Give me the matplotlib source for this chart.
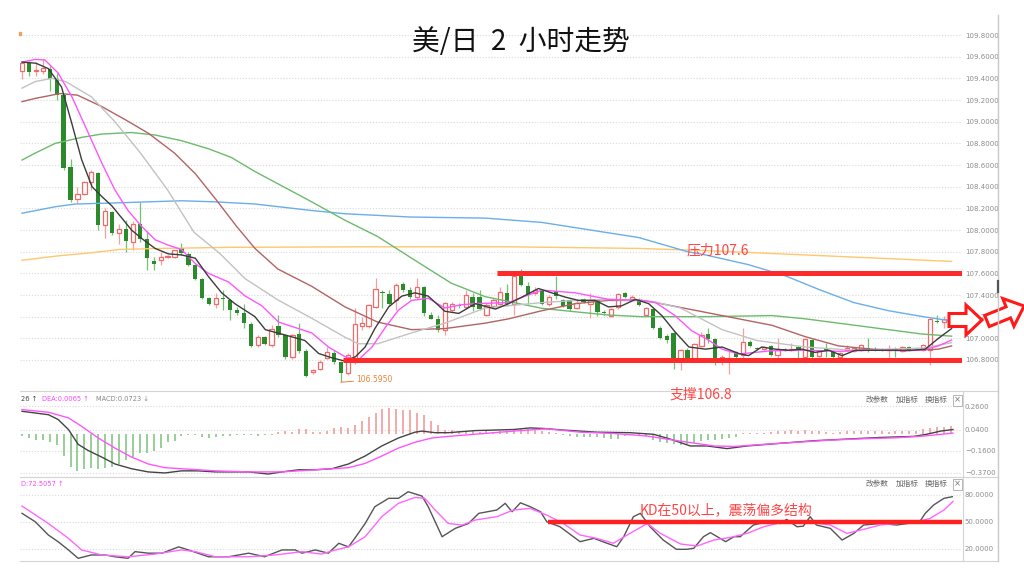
import numpy as np
import matplotlib.pyplot as plt
from matplotlib.lines import Line2D
from matplotlib.patches import Polygon, Rectangle

plt.rcParams['font.family'] = ['Noto Sans CJK SC', 'DejaVu Sans']

# ---- K线数据 (2小时, 135根) ----
opens = [
    109.47, 109.54, 109.47, 109.47, 109.49, 109.39, 109.25, 108.58, 108.29, 108.33,
    108.44, 108.53, 108.05, 108.17, 107.97, 108.01, 107.89, 108.06, 107.92, 107.71,
    107.72, 107.75, 107.75, 107.83, 107.78, 107.68, 107.55, 107.37, 107.32, 107.37,
    107.35, 107.26, 107.23, 107.13, 106.94, 107.01, 106.94, 107.11, 107.03, 106.83,
    107.04, 106.88, 106.69, 106.72, 106.82, 106.86, 106.78, 106.68, 106.78, 107.11,
    107.11, 107.29, 107.43, 107.41, 107.35, 107.50, 107.45, 107.38, 107.47, 107.22,
    107.18, 107.08, 107.26, 107.31, 107.29, 107.38, 107.38, 107.22, 107.30, 107.32,
    107.42, 107.32, 107.625, 107.48, 107.42, 107.45, 107.32, 107.44, 107.35, 107.35,
    107.28, 107.36, 107.32, 107.35, 107.24, 107.21, 107.29, 107.42, 107.36, 107.35,
    107.22, 107.27, 107.10, 107.02, 107.05, 106.79, 106.89, 106.82, 106.93, 107.04,
    106.99, 106.81, 106.79, 106.87, 106.85, 106.97, 106.91, 106.90, 106.93, 106.85,
    106.90, 106.89, 106.92, 106.83, 106.98, 106.84, 106.90, 106.88, 106.83, 106.89,
    106.88, 106.89, 106.91, 106.90, 106.90, 106.89, 106.90, 106.88, 106.92, 106.91,
    106.89, 106.89, 107.16, 107.15, 107.16]
closes = [
    109.54, 109.46, 109.48, 109.50, 109.39, 109.25, 108.57, 108.28, 108.33, 108.44,
    108.54, 108.05, 108.18, 107.97, 108.01, 107.90, 108.06, 107.92, 107.74, 107.69,
    107.75, 107.76, 107.82, 107.79, 107.68, 107.55, 107.37, 107.32, 107.37, 107.36,
    107.26, 107.23, 107.14, 106.93, 107.01, 106.95, 107.09, 107.03, 106.83, 107.03,
    106.88, 106.65, 106.71, 106.78, 106.87, 106.78, 106.68, 106.85, 107.13, 107.14,
    107.31, 107.46, 107.42, 107.32, 107.49, 107.45, 107.38, 107.47, 107.23, 107.18,
    107.08, 107.33, 107.32, 107.30, 107.40, 107.29, 107.27, 107.31, 107.35, 107.43,
    107.32, 107.58, 107.49, 107.41, 107.45, 107.32, 107.38, 107.39, 107.30, 107.27,
    107.33, 107.34, 107.35, 107.24, 107.23, 107.27, 107.41, 107.38, 107.38, 107.31,
    107.28, 107.10, 107.00, 106.98, 106.79, 106.89, 106.82, 106.95, 107.03, 106.99,
    106.79, 106.83, 106.82, 106.83, 106.97, 106.93, 106.90, 106.92, 106.85, 106.89,
    106.89, 106.90, 106.88, 106.99, 106.83, 106.88, 106.89, 106.83, 106.86, 106.91,
    106.91, 106.94, 106.89, 106.89, 106.89, 106.90, 106.89, 106.92, 106.89, 106.90,
    106.94, 107.18, 107.15, 107.18, 107.14]
highs = [
    109.55, 109.56, 109.55, 109.58, 109.51, 109.45, 109.26, 108.66, 108.40, 108.45,
    108.55, 108.54, 108.20, 108.18, 108.06, 108.09, 108.08, 108.26, 107.99, 107.75,
    107.80, 107.77, 107.82, 107.88, 107.80, 107.69, 107.56, 107.38, 107.42, 107.45,
    107.36, 107.29, 107.32, 107.15, 107.03, 107.02, 107.12, 107.22, 107.04, 107.04,
    107.14, 106.90, 106.72, 106.80, 106.92, 106.89, 106.79, 106.86, 107.28, 107.20,
    107.32, 107.56, 107.45, 107.45, 107.51, 107.52, 107.47, 107.56, 107.48, 107.24,
    107.22, 107.34, 107.34, 107.33, 107.45, 107.42, 107.45, 107.33, 107.37, 107.47,
    107.50, 107.625, 107.64, 107.52, 107.47, 107.46, 107.40, 107.58, 107.36, 107.36,
    107.35, 107.37, 107.42, 107.36, 107.26, 107.28, 107.42, 107.43, 107.40, 107.37,
    107.29, 107.28, 107.11, 107.04, 107.06, 106.90, 106.91, 106.96, 107.06, 107.10,
    107.00, 106.85, 106.89, 106.88, 107.10, 106.98, 106.92, 106.93, 106.94, 107.00,
    106.91, 106.96, 106.93, 107.00, 106.99, 106.89, 106.96, 106.89, 106.87, 106.94,
    106.92, 106.95, 107.00, 106.92, 106.91, 106.94, 106.92, 106.93, 106.93, 106.92,
    106.95, 107.19, 107.22, 107.21, 107.17]
lows = [
    109.39, 109.42, 109.42, 109.44, 109.28, 109.20, 108.55, 108.26, 108.25, 108.32,
    108.37, 108.00, 107.93, 107.95, 107.87, 107.80, 107.82, 107.89, 107.63, 107.63,
    107.68, 107.74, 107.74, 107.77, 107.67, 107.54, 107.36, 107.31, 107.28, 107.26,
    107.17, 107.22, 107.10, 106.92, 106.92, 106.94, 106.92, 107.01, 106.81, 106.81,
    106.86, 106.64, 106.67, 106.71, 106.81, 106.76, 106.595, 106.66, 106.76, 107.08,
    107.10, 107.28, 107.28, 107.30, 107.26, 107.43, 107.36, 107.36, 107.21, 107.18,
    107.06, 107.03, 107.24, 107.28, 107.27, 107.25, 107.26, 107.21, 107.28, 107.30,
    107.30, 107.22, 107.48, 107.32, 107.40, 107.31, 107.30, 107.36, 107.29, 107.25,
    107.27, 107.33, 107.19, 107.21, 107.22, 107.20, 107.27, 107.37, 107.35, 107.30,
    107.21, 107.09, 106.99, 106.96, 106.72, 106.71, 106.80, 106.81, 106.92, 106.96,
    106.75, 106.75, 106.67, 106.82, 106.82, 106.92, 106.89, 106.89, 106.84, 106.79,
    106.88, 106.88, 106.79, 106.82, 106.82, 106.83, 106.83, 106.82, 106.82, 106.88,
    106.87, 106.88, 106.87, 106.88, 106.88, 106.79, 106.83, 106.87, 106.88, 106.89,
    106.88, 106.75, 107.14, 107.10, 107.13]

# ---- 均线 (读图位置, 横坐标为K线序号) ----
ma5_x = [0, 2, 3.8, 5.7, 7.2, 8.6, 10.1, 11.5, 13, 14.4, 15.8, 17.3, 19.2, 21.1, 23, 25, 26.9, 28.8,
         30.7, 33.6, 35.1, 38, 40.8, 42.8, 44.7, 46.6, 48.1, 49.5, 50.9, 52.9, 54.8, 56.7, 58.6, 61,
         63, 65.4, 68.3, 70.2, 72.1, 74.5, 76.4, 78.4, 80.3, 82.7, 84.6, 86.5, 88.5, 90.4, 92.3, 94.2,
         96.2, 98.6, 101, 103.4, 104.8, 106.7, 108.7, 110.6, 112.5, 114.4, 116.4, 118.3, 120.2, 122.6,
         125.5, 128.4, 130.3, 132.2, 134.1]
ma5_v = [109.55, 109.54, 109.49, 109.32, 108.98, 108.65, 108.40, 108.31, 108.22, 108.11, 108.00, 107.92,
         107.83, 107.78, 107.77, 107.74, 107.57, 107.42, 107.32, 107.20, 107.08, 107.03, 106.98, 106.86,
         106.82, 106.79, 106.83, 106.92, 107.09, 107.29, 107.39, 107.42, 107.39, 107.25, 107.23, 107.32,
         107.27, 107.32, 107.38, 107.46, 107.42, 107.38, 107.35, 107.35, 107.29, 107.30, 107.36, 107.32,
         107.21, 107.06, 106.92, 106.90, 106.92, 106.86, 106.84, 106.92, 106.90, 106.89, 106.90, 106.87,
         106.89, 106.84, 106.89, 106.89, 106.89, 106.89, 106.90, 107.00, 107.09]
ma10_x = [0, 1.9, 3.3, 5.2, 7.2, 9.6, 11.5, 13.4, 15.3, 17.3, 19.2, 21.1, 23, 25, 26.9, 29.8, 32.2, 34.6,
          37, 41.8, 44.2, 46.6, 48.5, 50.5, 52.4, 54.3, 56.2, 58.6, 61, 63.4, 65.4, 70.2, 72.6, 75, 79.8,
          84.6, 89.4, 91.4, 94.2, 96.6, 99, 101, 103.4, 108.2, 113, 117.8, 122.6, 127.4, 129.8, 132.2, 134.1]
ma10_v = [109.55, 109.575, 109.57, 109.45, 109.23, 108.89, 108.62, 108.37, 108.18, 108.03, 107.91, 107.86,
          107.82, 107.69, 107.60, 107.52, 107.39, 107.30, 107.15, 107.05, 106.92, 106.83, 106.80, 106.92,
          107.10, 107.26, 107.35, 107.37, 107.28, 107.31, 107.32, 107.33, 107.39, 107.445, 107.42, 107.36,
          107.35, 107.33, 107.21, 107.07, 106.985, 106.90, 106.855, 106.886, 106.89, 106.88, 106.89,
          106.886, 106.89, 106.93, 106.985]
ma20_x = [0, 1.9, 4.3, 6.3, 10, 13.4, 17.1, 21, 24.8, 28.6, 32.2, 36.9, 41.8, 46.6, 48.5, 51.3, 56.2, 61,
          66.8, 70, 75, 80, 85, 91, 95, 101, 106, 113, 120, 130, 134.1]
ma20_v = [109.31, 109.37, 109.40, 109.37, 109.23, 109.0, 108.71, 108.37, 107.98, 107.78, 107.55, 107.355,
          107.185, 107.01, 106.95, 106.95, 107.05, 107.14, 107.28, 107.30, 107.33, 107.35, 107.36, 107.34,
          107.28, 107.08, 106.98, 106.92, 106.89, 106.91, 106.96]
ma30_x = [0, 1.9, 5.5, 8, 11.5, 15.4, 18.3, 22, 25, 28, 31, 33.6, 36.9, 41.8, 46.6, 51.3, 56.2, 61, 66.8,
          70.2, 75, 79.8, 84.6, 89.4, 91.4, 98.6, 103.4, 108.2, 113, 117.8, 122.6, 127.4, 132.2, 134.1]
ma30_v = [109.185, 109.215, 109.26, 109.245, 109.14, 109.0, 108.89, 108.71, 108.52, 108.28, 108.03, 107.83,
          107.64, 107.48, 107.29, 107.15, 107.08, 107.09, 107.14, 107.18, 107.255, 107.32, 107.35, 107.35,
          107.33, 107.24, 107.18, 107.12, 107.015, 106.93, 106.90, 106.886, 106.90, 106.93]
ma60_x = [0, 1.9, 4.8, 8.6, 11.5, 15.8, 19.2, 23, 26.9, 30.2, 33.6, 41.3, 46.6, 51.3, 56.2, 61.9, 66.8, 75,
          79.8, 84.6, 89.4, 98.6, 108.2, 113, 122.6, 129.8, 134.1]
ma60_v = [108.646, 108.71, 108.80, 108.855, 108.886, 108.90, 108.877, 108.825, 108.75, 108.67, 108.54,
          108.277, 108.09, 107.94, 107.74, 107.51, 107.385, 107.277, 107.245, 107.215, 107.20, 107.20,
          107.21, 107.18, 107.10, 107.04, 107.02]
ma120_x = [0, 4.8, 7.7, 13.4, 23, 27.9, 33.6, 41.8, 46.6, 56, 66.8, 75, 82, 89, 96, 98.6, 104.8, 110, 115,
           120, 125, 130, 134.1]
ma120_v = [108.155, 108.215, 108.24, 108.25, 108.27, 108.26, 108.24, 108.18, 108.15, 108.12, 108.11, 108.07,
           108.0, 107.93, 107.80, 107.77, 107.68, 107.58, 107.45, 107.33, 107.255, 107.20, 107.16]
ma250_x = [0, 5, 10, 14, 20, 30, 50, 70, 89, 98.6, 107.5, 120, 134.1]
ma250_v = [107.72, 107.76, 107.79, 107.82, 107.83, 107.84, 107.845, 107.845, 107.83, 107.81, 107.785,
           107.75, 107.71]

# ---- MACD ----
macd_hist = [
    -0.02, -0.04, -0.055, -0.06, -0.08, -0.11, -0.21, -0.31, -0.35, -0.33,
    -0.32, -0.33, -0.32, -0.31, -0.29, -0.25, -0.22, -0.18, -0.18, -0.16,
    -0.13, -0.08, -0.065, -0.02, -0.01, -0.015, -0.035, -0.04, -0.03, -0.02,
    -0.02, -0.015, -0.015, -0.015, -0.02, -0.015, -0.01, 0.015, 0.03, 0.015,
    0.045, 0.045, 0.02, 0.015, 0.03, 0.05, 0.06, 0.05, 0.08, 0.125,
    0.155, 0.20, 0.23, 0.24, 0.235, 0.22, 0.22, 0.20, 0.18, 0.12,
    0.08, 0.04, 0.035, 0.025, 0.03, 0.025, 0.02, 0.03, 0.02, 0.025,
    0.03, 0.04, 0.047, 0.047, 0.04, 0.03, 0.016, 0.005, -0.01, -0.02,
    -0.03, -0.03, -0.03, -0.03, -0.04, -0.05, -0.05, -0.02, -0.01, -0.01,
    -0.02, -0.06, -0.08, -0.09, -0.10, -0.11, -0.10, -0.09, -0.065, -0.055,
    -0.055, -0.047, -0.038, -0.03, 0.005, 0.01, 0.01, 0.01, 0.016, 0.022,
    0.028, 0.035, 0.022, 0.035, 0.028, 0.025, 0.016, 0.01, 0.016, 0.022,
    0.028, 0.028, 0.025, 0.028, 0.022, 0.016, 0.022, 0.028, 0.022, 0.028,
    0.047, 0.057, 0.06, 0.066, 0.072]
dif_x = [0, 3.8, 5.2, 6.7, 8.1, 9.6, 11.5, 13.4, 15.8, 18.2, 20.6, 23, 25.4, 27.9, 32.7, 35.5, 37.5, 39.9,
         42.3, 44.7, 47.1, 49.5, 51.9, 54.3, 56.7, 57.7, 59.6, 61.5, 65.4, 70.9, 73.3, 75.2, 78.1, 82.9,
         87.7, 91.1, 93.5, 96.4, 98.8, 101.7, 104.6, 109.4, 114.2, 119, 123.8, 128.6, 130.5, 132.5, 134.3]
dif_v = [0.212, 0.18, 0.135, 0.04, -0.10, -0.16, -0.22, -0.285, -0.33, -0.36, -0.37, -0.35, -0.35, -0.36,
         -0.36, -0.38, -0.36, -0.34, -0.34, -0.33, -0.285, -0.21, -0.115, -0.04, 0.015, 0.025, 0.01, 0.01,
         0.03, 0.04, 0.055, 0.05, 0.035, 0.015, 0.01, -0.005, -0.05, -0.115, -0.115, -0.14, -0.115, -0.09,
         -0.066, -0.05, -0.035, -0.025, -0.005, 0.025, 0.04]
dea_x = [0, 3.8, 6.7, 8.6, 11, 13.4, 15.8, 18.2, 20.6, 23, 27.9, 32.7, 37.5, 42.3, 44.7, 47.1, 49.5, 51.9,
         54.3, 56.7, 59.1, 61.5, 66.2, 70.9, 75.7, 80.5, 85.3, 90.2, 95, 99.8, 102.7, 107, 111.8, 116.6,
         121.4, 126.2, 130, 134.3]
dea_v = [0.228, 0.203, 0.15, 0.07, -0.04, -0.135, -0.22, -0.285, -0.32, -0.33, -0.35, -0.36, -0.36, -0.34,
         -0.33, -0.32, -0.28, -0.21, -0.135, -0.08, -0.04, -0.025, 0.0, 0.025, 0.047, 0.015, 0.003, -0.022,
         -0.07, -0.115, -0.12, -0.10, -0.08, -0.06, -0.047, -0.038, -0.022, 0.0065]

# ---- KD ----
k_x = [0, 1.9, 3.8, 5.2, 6.7, 8.1, 10, 12, 13.4, 15.3, 16.3, 18.2, 20.2, 22.6, 24, 26.9, 29.8, 32.7, 35,
       37.5, 39.4, 40.4, 42.3, 44.2, 45.7, 47.1, 48, 49.5, 50.9, 52.9, 54.3, 55.7, 57.7, 58.6, 60.6, 62.5,
       64.4, 65.9, 68.5, 69.7, 70.7, 71.9, 73.3, 74.8, 75.7, 77.6, 80.5, 82.5, 84.4, 85.8, 86.8, 88.2, 89.2,
       90.6, 92.5, 94.4, 95.9, 96.9, 98.3, 99.3, 100.3, 101.5, 102.7, 103.6, 105.5, 107.5, 109.4, 110.3,
       111.8, 112.7, 113.7, 114.6, 116.6, 118.3, 120, 121.4, 123.8, 126.2, 127.7, 129.4, 130.3, 131.5, 133,
       134.2]
k_v = [59.3, 50, 35.2, 27.8, 18.6, 9.3, 13, 13, 11, 9.3, 16.7, 15, 15, 22, 18.6, 11, 11, 15, 11, 18.6, 18.6,
       15, 18.6, 15, 26, 22, 31.5, 48, 66.7, 76, 76, 83.3, 78.5, 66.7, 33.3, 42.6, 48, 59.3, 63, 70.4, 61.1,
       71, 66.7, 61.1, 50, 44.4, 27.8, 31.5, 26, 22.2, 33.3, 55.6, 59.3, 44.4, 29.6, 19.3, 19.3, 20.4, 33.3,
       37.8, 33.3, 27.8, 33.3, 33.3, 46.3, 50, 48, 52.6, 44.4, 45, 55.6, 46.3, 42.6, 29.6, 37, 46.3, 48,
       46.3, 48, 48.9, 59.3, 68.5, 76, 77.8]
d_x = [0, 3.8, 6.7, 8.6, 11.5, 15.3, 19.2, 23, 25, 27.9, 32.7, 36.5, 40.4, 43.2, 45.2, 47.1, 49.5, 51.9,
       54.3, 56.7, 58.1, 59.6, 61.5, 63.5, 65.4, 68.5, 70.9, 73.3, 75.7, 78.1, 80.5, 82.9, 85.3, 87.7, 90.2,
       92.1, 95, 97.4, 99.8, 102.2, 104.6, 107, 109.4, 111.8, 114.2, 116.6, 119, 121.4, 123.8, 126.2, 128.6,
       131, 133, 134.3]
d_v = [67.4, 48, 31.5, 18.6, 13, 11, 14, 18.6, 16.7, 11, 11, 13, 16.7, 14, 18.6, 22, 33.3, 55.6, 70.4, 77,
       76, 63, 48, 46.3, 51.9, 55.6, 63, 64.8, 57.4, 48, 35.2, 31.5, 26, 37, 48, 37, 25.2, 23, 29.6, 32.6,
       37, 44.4, 48.9, 50, 48.9, 46.3, 37, 41.5, 46.3, 48, 48.9, 53.7, 63, 72.5]

price_ticks = [106.8, 107.0, 107.2, 107.4, 107.6, 107.8, 108.0, 108.2, 108.4, 108.6, 108.8,
               109.0, 109.2, 109.4, 109.6, 109.8]
macd_ticks = [0.26, 0.04, -0.16, -0.37]
macd_labels = ['0.2600', '0.0400', '\u22120.1600', '\u22120.3700']
kd_ticks = [80, 50, 20]
kd_labels = ['80.0000', '50.0000', '20.0000']

resistance, support, kd_level = 107.6, 106.8, 50

# ---- 画布 ----
W, H = 1024, 581
fig = plt.figure(figsize=(W / 100, H / 100), dpi=100)
fig.patch.set_facecolor('white')


def fx(x):
    return x / W


def fy(y):
    return 1 - y / H


def panel(top, bottom):
    return fig.add_axes([fx(20), fy(bottom), (962 - 20) / W, (bottom - top) / H])


XMIN, XMAX = -0.29, 135.6


def style(a, ticks, labels, ylim):
    a.set_xlim(XMIN, XMAX)
    a.set_ylim(*ylim)
    a.patch.set_alpha(0)
    for s in a.spines.values():
        s.set_visible(False)
    a.set_xticks([])
    a.yaxis.tick_right()
    a.set_yticks(ticks)
    a.set_yticklabels(labels)
    a.tick_params(axis='y', length=0, pad=2, labelsize=5.0, labelcolor='#8c8c8c')
    for lab in a.get_yticklabels():
        lab.set_fontfamily('DejaVu Sans')
    for t in ticks:
        a.axhline(t, color='#d9d9d9', lw=0.8, ls=(0, (1, 1.6)), zorder=0)


ax = panel(15, 390)
ax_macd = panel(392, 477)
ax_kd = panel(477, 561)

style(ax, price_ticks, ['%.4f' % t for t in price_ticks], (106.523, 109.985))
style(ax_macd, macd_ticks, macd_labels, (-0.408, 0.394))
style(ax_kd, kd_ticks, kd_labels, (6.3, 99.7))

# ---- 蜡烛 ----
o, c, h, l = map(np.array, (opens, closes, highs, lows))
x = np.arange(len(o))
up = c >= o
ax.vlines(x[up], l[up], h[up], color='#f3a0a0', lw=0.9, zorder=2)
ax.vlines(x[~up], l[~up], h[~up], color='#72c272', lw=0.9, zorder=2)
ax.bar(x[up], np.maximum(c - o, 0.005)[up], bottom=o[up], width=0.62,
       facecolor='white', edgecolor='#f06a6a', lw=0.9, zorder=3)
ax.bar(x[~up], np.maximum(o - c, 0.005)[~up], bottom=c[~up], width=0.62,
       color='#2b8a2b', zorder=3)

for xs, vs, col in [(ma250_x, ma250_v, '#ffc76e'), (ma120_x, ma120_v, '#6aaeea'),
                    (ma60_x, ma60_v, '#6cbb6c'), (ma30_x, ma30_v, '#b26464'),
                    (ma20_x, ma20_v, '#c2c2c2'), (ma10_x, ma10_v, '#ff55ff'),
                    (ma5_x, ma5_v, '#3c3c3c')]:
    ax.plot(xs, vs, color=col, lw=1.0, zorder=4)

ax.hlines(resistance, 68.5, XMAX, color='#ff2a2a', lw=3.6, zorder=6)
ax.hlines(support, 46.3, XMAX, color='#ff2a2a', lw=3.6, zorder=6)

low_i = int(np.argmin(l))
ax.annotate('%.4f' % l[low_i], xy=(low_i, l[low_i]), xytext=(low_i + 2.2, l[low_i] + 0.025),
            fontsize=5.5, color='#e8843a', va='center', family='DejaVu Sans',
            arrowprops=dict(arrowstyle='-', color='#e8843a', lw=0.7, shrinkA=0, shrinkB=0), zorder=7)

# ---- MACD ----
hist = np.array(macd_hist)
ax_macd.vlines(x, 0, hist, colors=np.where(hist > 0, '#f2a3a3', '#8fcb8f'), lw=1.3, zorder=2)
ax_macd.plot(dif_x, dif_v, color='#444444', lw=1.0, zorder=3)
ax_macd.plot(dea_x, dea_v, color='#ff55ff', lw=1.0, zorder=3)

# ---- KD ----
ax_kd.plot(k_x, k_v, color='#555555', lw=1.0, zorder=3)
ax_kd.plot(d_x, d_v, color='#ff66ff', lw=1.0, zorder=3)
ax_kd.hlines(kd_level, 75.9, XMAX, color='#ff2020', lw=3.2, zorder=5)

# ---- 分隔线 ----
for yy in (391, 477, 561):
    fig.add_artist(Line2D([fx(20), fx(998)], [fy(yy), fy(yy)], color='#d4d4d4', lw=0.8))
fig.add_artist(Line2D([fx(963), fx(963)], [fy(391), fy(561)], color='#d4d4d4', lw=0.8))
fig.add_artist(Line2D([fx(998), fx(998)], [fy(15), fy(561)], color='#c8c8c8', lw=1.0))
fig.add_artist(Line2D([fx(998), fx(998)], [fy(281), fy(292)], color='#555555', lw=1.6))
fig.add_artist(Rectangle((fx(19), fy(35)), 2 / W, 3 / H, color='#f2a060', transform=fig.transFigure))

# ---- 文字 ----
fig.text(fx(521), fy(42), '美/日  2  小时走势', ha='center', va='center', fontsize=20, color='#111111')
fig.text(fx(687), fy(250), '压力107.6', ha='left', va='center', fontsize=10, color='#ff4545')
fig.text(fx(670), fy(395), '支撑106.8', ha='left', va='center', fontsize=10, color='#ff4545')
fig.text(fx(640), fy(510), 'KD在50以上，震荡偏多结构', ha='left', va='center', fontsize=10, color='#ff4545')

hdr = dict(fontsize=4.8, va='center', ha='left', family='DejaVu Sans')
fig.text(fx(21), fy(399), '26 \u2191', color='#444444', **hdr)
fig.text(fx(42), fy(399), 'DEA:0.0065 \u2191', color='#ff44ff', **hdr)
fig.text(fx(96), fy(399), 'MACD:0.0723 \u2193', color='#888888', **hdr)
fig.text(fx(21), fy(484), 'D:72.5057 \u2191', color='#ff44ff', **hdr)

for yy in (400, 484):
    for xx, s in ((866, '改参数'), (896, '加指标'), (925, '换指标')):
        fig.text(fx(xx), fy(yy), s, fontsize=5.5, color='#666666', va='center', ha='left')
    fig.text(fx(957.5), fy(yy), '\u00d7', fontsize=6, color='#777777', va='center', ha='center',
             family='DejaVu Sans',
             bbox=dict(boxstyle='square,pad=0.12', fc='white', ec='#aaaaaa', lw=0.6))


# ---- 右侧箭头 ----
def arrow_poly(x0, y0, length, angle, shaft, head, head_len):
    pts = np.array([[0, -shaft], [length - head_len, -shaft], [length - head_len, -head], [length, 0],
                    [length - head_len, head], [length - head_len, shaft], [0, shaft]])
    a = np.deg2rad(angle)
    rot = np.array([[np.cos(a), -np.sin(a)], [np.sin(a), np.cos(a)]])
    p = pts @ rot.T
    return np.column_stack([(x0 + p[:, 0]) / W, 1 - (y0 - p[:, 1]) / H])


for args in ((949, 320, 33, 0, 6.5, 15, 16), (987, 321, 40, 22, 6, 15, 17)):
    fig.add_artist(Polygon(arrow_poly(*args), closed=True, fc='white', ec='#ff1a1a', lw=2.2,
                           transform=fig.transFigure, joinstyle='miter'))

fig.savefig('out.png', dpi=100, facecolor='white')
